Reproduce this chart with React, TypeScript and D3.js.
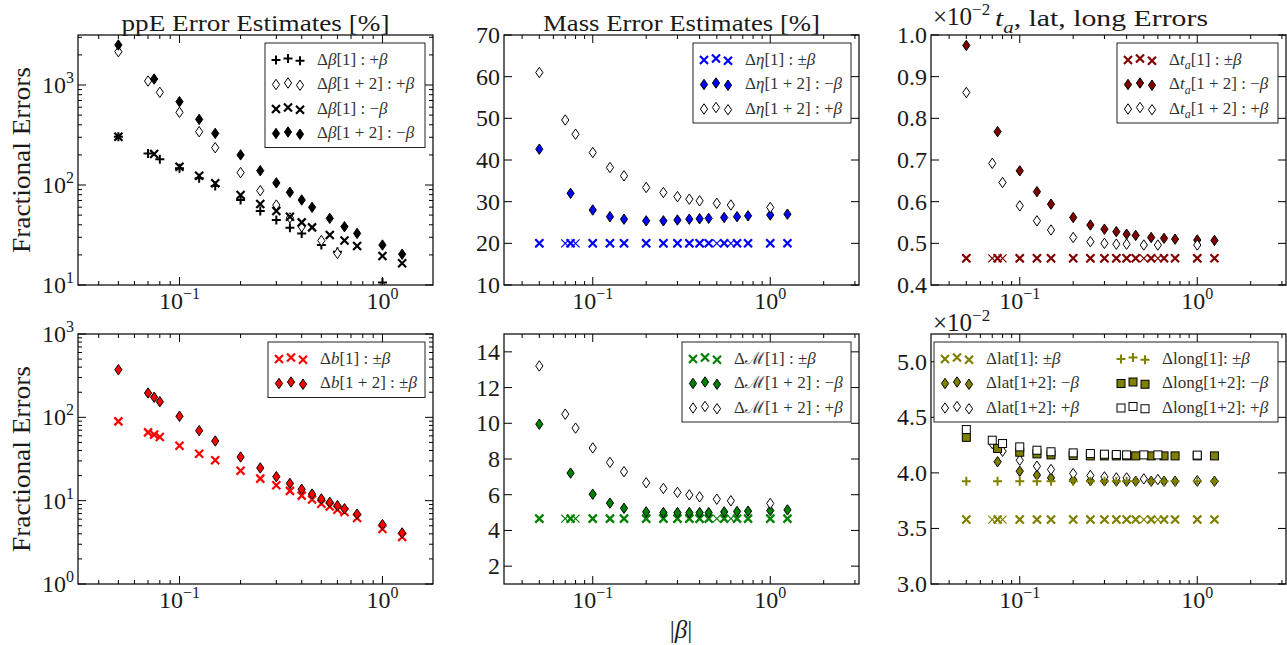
import React from "react";
import * as d3 from "d3";

// ---------------- data ----------------
const betaPos = [0.05, 0.07, 0.08, 0.1, 0.125, 0.15, 0.2, 0.25, 0.3, 0.35, 0.4, 0.5, 0.6, 1.0];
const betaNeg = [0.05, 0.075, 0.1, 0.125, 0.15, 0.2, 0.25, 0.3, 0.35, 0.4, 0.45, 0.55, 0.65, 0.75, 1.0, 1.25];
const betaAll = [0.05, 0.07, 0.075, 0.08, 0.1, 0.125, 0.15, 0.2, 0.25, 0.3, 0.35, 0.4, 0.45, 0.5, 0.55, 0.6, 0.65, 0.75, 1.0, 1.25];

// ppE
const ppeOnePlus = [304, 207, 181, 147, 117, 97.7, 70.8, 55, 44.7, 37.4, 32.8, 25.1, 21.5, 10.6];
const ppeTwoPlus = [2154, 1096, 845, 533, 341, 236, 133, 87.7, 63, 47, 38.3, 27.8, 20.7, 9.6];
const ppeOneMinus = [304, 204, 152, 124, 104, 79.4, 64.6, 55, 48.2, 42.3, 37.7, 31.6, 27.8, 24.5, 19.5, 16.5];
const ppeTwoMinus = [2512, 1148, 681, 453, 328, 200, 139, 105, 84.5, 70.8, 59.8, 46.4, 38.3, 32.8, 25.1, 20.3];

// mass ratio eta
const etaOnePlus = [20, 20, 20, 20, 20, 20, 20, 20, 20, 20, 20, 20, 20, 20];
const etaOneMinus = [20, 20, 20, 20, 20, 20, 20, 20, 20, 20, 20, 20, 20, 20, 20, 20];
const etaTwoMinus = [42.6, 32.0, 28.0, 26.4, 25.8, 25.4, 25.4, 25.6, 25.8, 25.9, 26.0, 26.2, 26.4, 26.6, 26.8, 27.0];
const etaTwoPlus = [61.0, 49.6, 46.2, 41.8, 38.2, 36.2, 33.4, 32.2, 31.2, 30.6, 30.2, 29.6, 29.2, 28.6];

// arrival time t_a (x 1e-2)
const taOnePlus = [0.464, 0.464, 0.464, 0.464, 0.464, 0.464, 0.464, 0.464, 0.464, 0.464, 0.464, 0.464, 0.464, 0.464];
const taOneMinus = [0.464, 0.464, 0.464, 0.464, 0.464, 0.464, 0.464, 0.464, 0.464, 0.464, 0.464, 0.464, 0.464, 0.464, 0.464, 0.464];
const taTwoMinus = [0.975, 0.768, 0.674, 0.624, 0.594, 0.562, 0.544, 0.534, 0.528, 0.522, 0.519, 0.514, 0.512, 0.51, 0.508, 0.507];
const taTwoPlus = [0.862, 0.692, 0.646, 0.59, 0.554, 0.532, 0.514, 0.504, 0.5, 0.498, 0.498, 0.496, 0.496, 0.496];

// ppE b
const bOne = [89.5, 66, 62, 58, 45.7, 36.6, 30.5, 22.9, 18.4, 15.3, 13.1, 11.5, 10.3, 9.2, 8.5, 7.8, 7.3, 6.2, 4.57, 3.66];
const bTwo = [373, 196, 174, 154, 103, 69.2, 52, 33.4, 24.7, 19.4, 16.1, 13.7, 12.0, 10.5, 9.55, 8.7, 8.0, 6.9, 5.15, 4.1];

// chirp mass
const mcOnePlus = [4.66, 4.66, 4.66, 4.66, 4.66, 4.66, 4.66, 4.66, 4.66, 4.66, 4.66, 4.66, 4.66, 4.66];
const mcOneMinus = [4.66, 4.66, 4.66, 4.66, 4.66, 4.66, 4.66, 4.66, 4.66, 4.66, 4.66, 4.66, 4.66, 4.66, 4.66, 4.66];
const mcTwoMinus = [9.95, 7.21, 6.03, 5.53, 5.24, 5.04, 5.0, 5.0, 5.0, 5.0, 5.0, 5.04, 5.06, 5.08, 5.11, 5.15];
const mcTwoPlus = [13.21, 10.51, 9.73, 8.62, 7.81, 7.29, 6.67, 6.35, 6.13, 5.99, 5.88, 5.75, 5.66, 5.51];

// lat / long (x 1e-2)
const latOnePlus = [3.58, 3.58, 3.58, 3.58, 3.58, 3.58, 3.58, 3.58, 3.58, 3.58, 3.58, 3.58, 3.58, 3.58];
const latOneMinus = [3.58, 3.58, 3.58, 3.58, 3.58, 3.58, 3.58, 3.58, 3.58, 3.58, 3.58, 3.58, 3.58, 3.58, 3.58, 3.58];
const latTwoMinus = [4.33, 4.1, 4.015, 3.98, 3.955, 3.937, 3.93, 3.928, 3.926, 3.925, 3.925, 3.925, 3.925, 3.925, 3.925, 3.925];
const latTwoPlus = [4.37, 4.264, 4.195, 4.114, 4.06, 4.03, 3.994, 3.976, 3.964, 3.955, 3.955, 3.946, 3.94, 3.93];
const longOneMinus = [3.925, 3.925, 3.925, 3.925, 3.925, 3.925, 3.925, 3.925, 3.925, 3.925, 3.925, 3.925, 3.925, 3.925, 3.925, 3.925];
const longTwoMinus = [4.32, 4.22, 4.186, 4.171, 4.162, 4.156, 4.153, 4.153, 4.153, 4.153, 4.153, 4.153, 4.153, 4.153, 4.153, 4.153];
const longTwoPlus = [4.39, 4.294, 4.264, 4.234, 4.204, 4.19, 4.18, 4.174, 4.168, 4.165, 4.162, 4.162, 4.162, 4.16];

// axis ticks
const ticksMass = [10, 20, 30, 40, 50, 60, 70];
const ticksTa = [0.4, 0.5, 0.6, 0.7, 0.8, 0.9, 1.0];
const ticksMc = [2, 4, 6, 8, 10, 12, 14];
const ticksLat = [3.0, 3.5, 4.0, 4.5, 5.0];
const ticksLogTop = [10, 100, 1000];
const ticksLogBot = [1, 10, 100, 1000];

// ---------------- styling ----------------
const FONT = "'Liberation Serif','Times New Roman',serif";
const BLUE = "#0000ff";
const RED = "#ff0000";
const GREEN = "#008000";
const DRED = "#800000";
const OLIVE = "#808000";
const TXT = "#1a1a1a";

type Kind = "x" | "xt" | "+" | "d" | "s";
interface Ser { xs: number[]; ys: number[]; kind: Kind; color: string; filled?: boolean }
interface LegEntry { kind: Kind; color: string; filled?: boolean; label: string }
interface PanelCfg {
  x0: number; x1: number; y0: number; y1: number;
  xMax: number; yLog: boolean; yDom: [number, number]; yTicks: number[];
  yFmt?: (v: number) => string;
  title: string; titleY: number; titleX?: number; titleLen?: number; offsetY?: number;
  series: Ser[];
  legend: { w: number; cols: number; colW?: number; entries: LegEntry[] };
}

type Seg = { t: string; it?: boolean; sub?: boolean };
function parseLabel(s: string): Seg[] {
  const out: Seg[] = [];
  s.split(/(\*[^*]+\*|_[^_\s]+_)/).forEach((p) => {
    if (!p) return;
    if (p.startsWith("*")) out.push({ t: p.slice(1, -1), it: true });
    else if (p.startsWith("_") && p.length > 2) out.push({ t: p.slice(1, -1), it: true, sub: true });
    else out.push({ t: p });
  });
  return out;
}
function renderSegs(s: string, size: number) {
  const segs = parseLabel(s);
  let shifted = false;
  return segs.map((sg, i) => {
    let dy: number | undefined;
    if (sg.sub && !shifted) { dy = size * 0.28; shifted = true; }
    else if (!sg.sub && shifted) { dy = -size * 0.28; shifted = false; }
    return (
      <tspan key={i} dy={dy} fontStyle={sg.it ? "italic" : undefined} fontSize={sg.sub ? size * 0.7 : undefined}>
        {sg.t}
      </tspan>
    );
  });
}

function mark(kind: Kind, x: number, y: number, color: string, filled: boolean | undefined, key: string | number) {
  if (kind === "x" || kind === "xt") {
    const r = 4;
    return (
      <path key={key} d={`M${x - r},${y - r}L${x + r},${y + r}M${x - r},${y + r}L${x + r},${y - r}`}
        stroke={color} strokeWidth={kind === "x" ? 2.2 : 1.2} fill="none" />
    );
  }
  if (kind === "+") {
    const r = 4.5;
    return <path key={key} d={`M${x - r},${y}L${x + r},${y}M${x},${y - r}L${x},${y + r}`} stroke={color} strokeWidth={2} fill="none" />;
  }
  if (kind === "d") {
    return (
      <path key={key} d={`M${x},${y - 5.2}L${x + 3.6},${y}L${x},${y + 5.2}L${x - 3.6},${y}Z`}
        fill={filled ? color : "#fff"} stroke="#000" strokeWidth={1} />
    );
  }
  return <rect key={key} x={x - 4} y={y - 4} width={8} height={8} fill={filled ? color : "#fff"} stroke="#000" strokeWidth={1} />;
}

function sup(exp: number) {
  return exp < 0 ? "\u2212" + Math.abs(exp) : String(exp);
}

function logTicks(dom: [number, number]) {
  const out: { v: number; major: boolean }[] = [];
  const e0 = Math.floor(Math.log10(dom[0]));
  const e1 = Math.ceil(Math.log10(dom[1]));
  for (let e = e0; e <= e1; e++) {
    for (let k = 1; k <= 9; k++) {
      const v = k * Math.pow(10, e);
      if (v >= dom[0] * 0.9999 && v <= dom[1] * 1.0001) out.push({ v, major: k === 1 });
    }
  }
  return out;
}

const X_MIN = Math.pow(10, -1.5);

const panels: PanelCfg[] = [
  {
    x0: 78, x1: 433, y0: 35, y1: 285, xMax: Math.pow(10, 0.249), yLog: true, yDom: [10, Math.pow(10, 3.5)], yTicks: ticksLogTop,
    title: "ppE Error Estimates [%]", titleY: 30.5, titleLen: 268,
    series: [
      { xs: betaPos, ys: ppeOnePlus, kind: "+", color: "#000" },
      { xs: betaPos, ys: ppeTwoPlus, kind: "d", color: "#000", filled: false },
      { xs: betaNeg, ys: ppeOneMinus, kind: "x", color: "#000" },
      { xs: betaNeg, ys: ppeTwoMinus, kind: "d", color: "#000", filled: true },
    ],
    legend: {
      w: 160, cols: 1, entries: [
        { kind: "+", color: "#000", label: "Δ*β*[1] : +*β*" },
        { kind: "d", color: "#000", filled: false, label: "Δ*β*[1 + 2] : +*β*" },
        { kind: "x", color: "#000", label: "Δ*β*[1] : −*β*" },
        { kind: "d", color: "#000", filled: true, label: "Δ*β*[1 + 2] : −*β*" },
      ],
    },
  },
  {
    x0: 504, x1: 859, y0: 35, y1: 285, xMax: Math.pow(10, 0.5), yLog: false, yDom: [10, 70], yTicks: ticksMass,
    yFmt: (v) => String(v), title: "Mass Error Estimates [%]", titleY: 30.5, titleLen: 277,
    series: [
      { xs: betaPos, ys: etaOnePlus, kind: "xt", color: BLUE },
      { xs: betaNeg, ys: etaOneMinus, kind: "x", color: BLUE },
      { xs: betaNeg, ys: etaTwoMinus, kind: "d", color: BLUE, filled: true },
      { xs: betaPos, ys: etaTwoPlus, kind: "d", color: BLUE, filled: false },
    ],
    legend: {
      w: 158, cols: 1, entries: [
        { kind: "x", color: BLUE, label: "Δ*η*[1] : ±*β*" },
        { kind: "d", color: BLUE, filled: true, label: "Δ*η*[1 + 2] : −*β*" },
        { kind: "d", color: BLUE, filled: false, label: "Δ*η*[1 + 2] : +*β*" },
      ],
    },
  },
  {
    x0: 931, x1: 1286, y0: 35, y1: 285, xMax: Math.pow(10, 0.5), yLog: false, yDom: [0.4, 1.0], yTicks: ticksTa,
    yFmt: (v) => v.toFixed(1), title: "*t*_a_, lat, long Errors", titleY: 26, titleX: 995, titleLen: 213, offsetY: 25,
    series: [
      { xs: betaPos, ys: taOnePlus, kind: "xt", color: DRED },
      { xs: betaNeg, ys: taOneMinus, kind: "x", color: DRED },
      { xs: betaNeg, ys: taTwoMinus, kind: "d", color: DRED, filled: true },
      { xs: betaPos, ys: taTwoPlus, kind: "d", color: DRED, filled: false },
    ],
    legend: {
      w: 161, cols: 1, entries: [
        { kind: "x", color: DRED, label: "Δ*t*_a_[1] : ±*β*" },
        { kind: "d", color: DRED, filled: true, label: "Δ*t*_a_[1 + 2] : −*β*" },
        { kind: "d", color: DRED, filled: false, label: "Δ*t*_a_[1 + 2] : +*β*" },
      ],
    },
  },
  {
    x0: 78, x1: 433, y0: 334, y1: 584, xMax: Math.pow(10, 0.249), yLog: true, yDom: [1, 1000], yTicks: ticksLogBot,
    title: "", titleY: 0,
    series: [
      { xs: betaAll, ys: bOne, kind: "x", color: RED },
      { xs: betaAll, ys: bTwo, kind: "d", color: RED, filled: true },
    ],
    legend: {
      w: 157, cols: 1, entries: [
        { kind: "x", color: RED, label: "Δ*b*[1] : ±*β*" },
        { kind: "d", color: RED, filled: true, label: "Δ*b*[1 + 2] : ±*β*" },
      ],
    },
  },
  {
    x0: 504, x1: 859, y0: 334, y1: 584, xMax: Math.pow(10, 0.5), yLog: false, yDom: [1, 15], yTicks: ticksMc,
    yFmt: (v) => String(v), title: "", titleY: 0,
    series: [
      { xs: betaPos, ys: mcOnePlus, kind: "xt", color: GREEN },
      { xs: betaNeg, ys: mcOneMinus, kind: "x", color: GREEN },
      { xs: betaNeg, ys: mcTwoMinus, kind: "d", color: GREEN, filled: true },
      { xs: betaPos, ys: mcTwoPlus, kind: "d", color: GREEN, filled: false },
    ],
    legend: {
      w: 169, cols: 1, entries: [
        { kind: "x", color: GREEN, label: "Δℳ[1] : ±*β*" },
        { kind: "d", color: GREEN, filled: true, label: "Δℳ[1 + 2] : −*β*" },
        { kind: "d", color: GREEN, filled: false, label: "Δℳ[1 + 2] : +*β*" },
      ],
    },
  },
  {
    x0: 931, x1: 1286, y0: 334, y1: 584, xMax: Math.pow(10, 0.5), yLog: false, yDom: [3.0, 5.25], yTicks: ticksLat,
    yFmt: (v) => v.toFixed(1), title: "", titleY: 0, offsetY: 331,
    series: [
      { xs: betaPos, ys: latOnePlus, kind: "xt", color: OLIVE },
      { xs: betaNeg, ys: latOneMinus, kind: "x", color: OLIVE },
      { xs: betaNeg, ys: latTwoMinus, kind: "d", color: OLIVE, filled: true },
      { xs: betaPos, ys: latTwoPlus, kind: "d", color: OLIVE, filled: false },
      { xs: betaNeg, ys: longOneMinus, kind: "+", color: OLIVE },
      { xs: betaNeg, ys: longTwoMinus, kind: "s", color: OLIVE, filled: true },
      { xs: betaPos, ys: longTwoPlus, kind: "s", color: OLIVE, filled: false },
    ],
    legend: {
      w: 344, cols: 2, colW: 176, entries: [
        { kind: "x", color: OLIVE, label: "Δlat[1]: ±*β*" },
        { kind: "d", color: OLIVE, filled: true, label: "Δlat[1+2]: −*β*" },
        { kind: "d", color: OLIVE, filled: false, label: "Δlat[1+2]: +*β*" },
        { kind: "+", color: OLIVE, label: "Δlong[1]: ±*β*" },
        { kind: "s", color: OLIVE, filled: true, label: "Δlong[1+2]: −*β*" },
        { kind: "s", color: OLIVE, filled: false, label: "Δlong[1+2]: +*β*" },
      ],
    },
  },
];

const LEG_DY = [1.5, 0, 2.25];

function Panel({ p, idx }: { p: PanelCfg; idx: number }) {
  const xs = d3.scaleLog().domain([X_MIN, p.xMax]).range([p.x0, p.x1]);
  const ys = p.yLog
    ? d3.scaleLog().domain(p.yDom).range([p.y1, p.y0])
    : d3.scaleLinear().domain(p.yDom).range([p.y1, p.y0]);
  const clipId = `clip${idx}`;
  const xt = logTicks([X_MIN, p.xMax]);
  const yt = p.yLog ? logTicks(p.yDom) : p.yTicks.map((v) => ({ v, major: true }));
  const MAJ = 8, MIN = 4;

  const tickLines: React.ReactNode[] = [];
  xt.forEach((t, i) => {
    const x = xs(t.v);
    const l = t.major ? MAJ : MIN;
    tickLines.push(<line key={`xb${i}`} x1={x} x2={x} y1={p.y1} y2={p.y1 - l} />);
    tickLines.push(<line key={`xt${i}`} x1={x} x2={x} y1={p.y0} y2={p.y0 + l} />);
  });
  yt.forEach((t, i) => {
    const y = ys(t.v);
    const l = t.major ? MAJ : MIN;
    tickLines.push(<line key={`yl${i}`} x1={p.x0} x2={p.x0 + l} y1={y} y2={y} />);
    tickLines.push(<line key={`yr${i}`} x1={p.x1} x2={p.x1 - l} y1={y} y2={y} />);
  });

  const lg = p.legend;
  const rowsPerCol = Math.ceil(lg.entries.length / lg.cols);
  const lgH = rowsPerCol * 24.5 + 6.5;
  const lgX = p.x1 - 8 - lg.w;
  const lgY = p.y0 + 8;

  return (
    <g>
      <defs>
        <clipPath id={clipId}>
          <rect x={p.x0} y={p.y0} width={p.x1 - p.x0} height={p.y1 - p.y0} />
        </clipPath>
      </defs>
      <g clipPath={`url(#${clipId})`}>
        {p.series.map((s, si) => (
          <g key={si}>{s.xs.map((xv, i) => mark(s.kind, xs(xv), ys(s.ys[i]), s.color, s.filled, i))}</g>
        ))}
      </g>
      <g stroke="#000" strokeWidth={1}>{tickLines}</g>
      <rect x={p.x0} y={p.y0} width={p.x1 - p.x0} height={p.y1 - p.y0} fill="none" stroke="#000" strokeWidth={1.2} />
      {/* x tick labels */}
      {xt.filter((t) => t.major).map((t, i) => (
        <text key={`xl${i}`} x={xs(t.v)} y={p.y1 + 24} textAnchor="middle" fontSize={24} fill={TXT}>
          10<tspan dy={-10} fontSize={16}>{sup(Math.round(Math.log10(t.v)))}</tspan>
        </text>
      ))}
      {/* y tick labels */}
      {yt.filter((t) => t.major).map((t, i) =>
        p.yLog ? (
          <text key={`yl${i}`} x={p.x0 - 4} y={ys(t.v) + 8} textAnchor="end" fontSize={24} fill={TXT}>
            10<tspan dy={-10} fontSize={16}>{sup(Math.round(Math.log10(t.v)))}</tspan>
          </text>
        ) : (
          <text key={`yl${i}`} x={p.x0 - 4} y={ys(t.v) + 8} textAnchor="end" fontSize={24} fill={TXT}>
            {p.yFmt ? p.yFmt(t.v) : String(t.v)}
          </text>
        )
      )}
      {p.title && (
        <text
          x={p.titleX !== undefined ? p.titleX : (p.x0 + p.x1) / 2}
          y={p.titleY}
          textAnchor={p.titleX !== undefined ? "start" : "middle"}
          fontSize={24}
          fill={TXT}
          textLength={p.titleLen}
          lengthAdjust="spacingAndGlyphs"
        >
          {renderSegs(p.title, 24)}
        </text>
      )}
      {p.offsetY !== undefined && (
        <text x={p.x0 + 2} y={p.offsetY} fontSize={25} fill={TXT}>
          ×10<tspan dy={-10} fontSize={17}>{sup(-2)}</tspan>
        </text>
      )}
      {/* legend */}
      <g>
        <rect x={lgX} y={lgY} width={lg.w} height={lgH} fill="#fff" stroke="#222" strokeWidth={1} />
        {lg.entries.map((e, i) => {
          const c = Math.floor(i / rowsPerCol);
          const r = i % rowsPerCol;
          const cx = lgX + c * (lg.colW || 0);
          const cy = lgY + 15.5 + r * 24.5;
          return (
            <g key={i}>
              {[0, 1, 2].map((k) => mark(e.kind, cx + 11 + k * 12, cy + LEG_DY[k], e.color, e.filled, k))}
              <text x={cx + 52} y={cy + 6} fontSize={17} fill="#333">
                {renderSegs(e.label, 17)}
              </text>
            </g>
          );
        })}
      </g>
    </g>
  );
}

export default function App() {
  return (
    <svg width={1287} height={645} style={{ position: "absolute", left: 0, top: 0, background: "#fff" }}
      fontFamily={FONT}>
      <rect x={0} y={0} width={1287} height={645} fill="#fff" />
      {panels.map((p, i) => (
        <Panel key={i} p={p} idx={i} />
      ))}
      <text transform="translate(30,160) rotate(-90)" textAnchor="middle" fontSize={25} fill={TXT}
        textLength={186} lengthAdjust="spacingAndGlyphs">Fractional Errors</text>
      <text transform="translate(30,459) rotate(-90)" textAnchor="middle" fontSize={25} fill={TXT}
        textLength={186} lengthAdjust="spacingAndGlyphs">Fractional Errors</text>
      <text x={681} y={638} textAnchor="middle" fontSize={25} fill={TXT}>
        |<tspan fontStyle="italic">β</tspan>|
      </text>
    </svg>
  );
}
